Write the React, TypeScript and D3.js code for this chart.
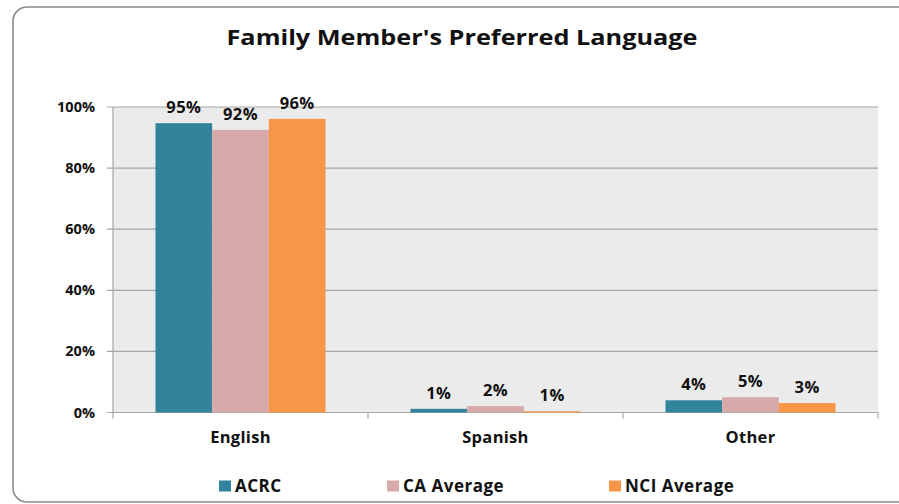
import React from "react";
import * as d3 from "d3";

const categories = ["English", "Spanish", "Other"];
const seriesNames = ["ACRC", "CA Average", "NCI Average"];
const acrcValues = [94.7, 1.2, 4.0];
const caValues = [92.5, 2.1, 5.0];
const nciValues = [96.1, 0.4, 3.1];
const labelsAcrc = ["95%", "1%", "4%"];
const labelsCa = ["92%", "2%", "5%"];
const labelsNci = ["96%", "1%", "3%"];
const yTicks = [0, 20, 40, 60, 80, 100];
const colors = ["#31849B", "#D8A9A9", "#F79646"];

const W = 899;
const H = 504;
const FONT = "'Open Sans', sans-serif";

export default function App() {
  const series = [acrcValues, caValues, nciValues];
  const labels = [labelsAcrc, labelsCa, labelsNci];
  const left = 113, right = 878, top = 107, bottom = 412.5;
  const x0 = d3.scaleBand<string>().domain(categories).range([left, right]).paddingInner(0).paddingOuter(0);
  const y = d3.scaleLinear().domain([0, 100]).range([bottom, top]);
  const bw = x0.bandwidth() / 4.5;
  const x1 = d3.scaleBand<string>().domain(seriesNames).range([bw * 0.75, bw * 3.75]).padding(0);

  const legendX = [219, 387, 609];

  return (
    <svg width={W} height={H} style={{ position: "fixed", left: 0, top: 0, background: "#fff" }}>
      <rect x={13} y={7} width={W} height={495} rx={14} ry={14} fill="#fff" stroke="#8a8a8a" strokeWidth={1.6} />
      <text x={462} y={45} textAnchor="middle" fontFamily={FONT} fontWeight={700} fontSize={22} fill="#111"
        textLength={471} lengthAdjust="spacingAndGlyphs">
        Family Member's Preferred Language
      </text>
      <rect x={left} y={top} width={right - left} height={bottom - top} fill="#EBEBEB" />
      {yTicks.map((t) => (
        <g key={t}>
          <line x1={left - 6} x2={right} y1={y(t)} y2={y(t)} stroke="#A6A6A6" strokeWidth={1.2} />
          <text x={95} y={y(t)} dy="0.35em" textAnchor="end" fontFamily={FONT} fontWeight={700} fontSize={14.5} fill="#111">
            {t}%
          </text>
        </g>
      ))}
      <line x1={left} x2={left} y1={top} y2={bottom} stroke="#A6A6A6" strokeWidth={1.2} />
      <line x1={left} x2={right} y1={bottom} y2={bottom} stroke="#A6A6A6" strokeWidth={1.2} />
      {[...categories.map((c) => x0(c)!), right].map((xv, i) => (
        <line key={i} x1={xv} x2={xv} y1={bottom} y2={bottom + 6} stroke="#A6A6A6" strokeWidth={1.2} />
      ))}
      {categories.map((c, ci) => (
        <g key={c}>
          {series.map((s, si) => {
            const bx = x0(c)! + x1(seriesNames[si])!;
            return (
              <g key={si}>
                <rect x={bx} y={y(s[ci])} width={x1.bandwidth()} height={bottom - y(s[ci])} fill={colors[si]} />
                <text
                  x={bx + x1.bandwidth() / 2}
                  y={y(s[ci]) - 16}
                  dy="0.35em"
                  textAnchor="middle"
                  fontFamily={FONT}
                  fontWeight={700}
                  fontSize={16.5}
                  letterSpacing={0.4}
                  fill="#111"
                >
                  {labels[si][ci]}
                </text>
              </g>
            );
          })}
          <text x={x0(c)! + x0.bandwidth() / 2} y={437} dy="0.35em" textAnchor="middle" fontFamily={FONT} fontWeight={700} fontSize={16.5} letterSpacing={0.3} fill="#111">
            {c}
          </text>
        </g>
      ))}
      {seriesNames.map((n, i) => (
        <g key={n}>
          <rect x={legendX[i]} y={480.5} width={12} height={11} fill={colors[i]} />
          <text x={legendX[i] + 16} y={486} dy="0.35em" fontFamily={FONT} fontWeight={700} fontSize={17} letterSpacing={0.5} fill="#111">
            {n}
          </text>
        </g>
      ))}
    </svg>
  );
}
